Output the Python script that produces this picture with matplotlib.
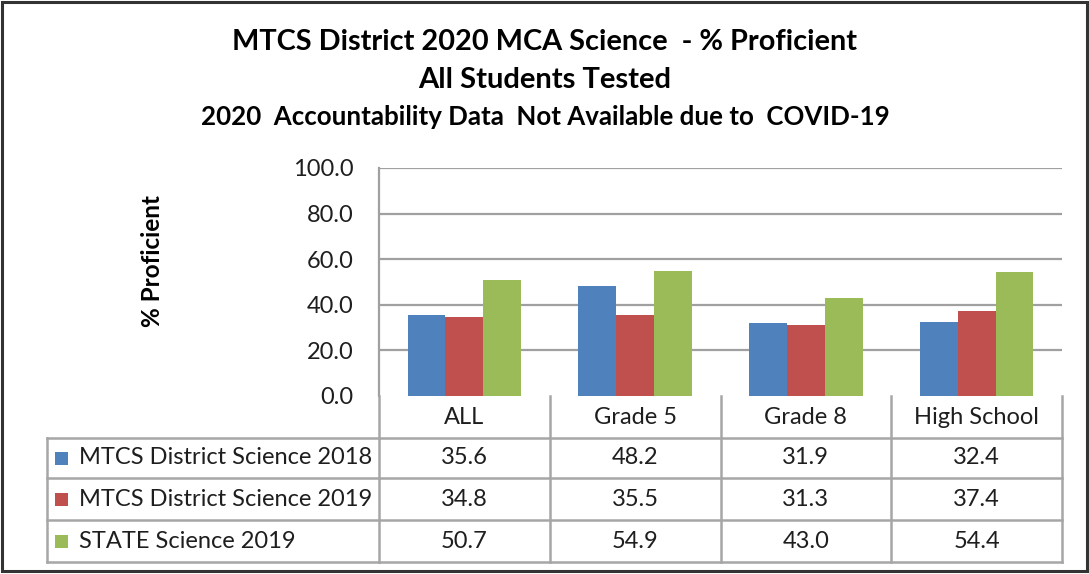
import matplotlib
matplotlib.use("Agg")
import matplotlib.pyplot as plt
from matplotlib.transforms import blended_transform_factory
from matplotlib.patches import Rectangle
from matplotlib.lines import Line2D

categories = ["ALL", "Grade 5", "Grade 8", "High School"]
series_names = ["MTCS District Science 2018", "MTCS District Science 2019", "STATE Science 2019"]
district_2018 = [35.6, 48.2, 31.9, 32.4]
district_2019 = [34.8, 35.5, 31.3, 37.4]
state_2019 = [50.7, 54.9, 43.0, 54.4]
series_values = [district_2018, district_2019, state_2019]
colors = ["#4F81BD", "#C0504D", "#9BBB59"]
yticks = [0, 20, 40, 60, 80, 100]

FONT = "Lato"
W, H = 1089, 574
fig = plt.figure(figsize=(W / 100, H / 100), dpi=100)
fig.patch.set_facecolor("white")

def fx(px):
    return px / W

def fy(py):
    return 1 - py / H

# plot area in pixels
L, R, T, B = 379, 1062, 168, 396
ax = fig.add_axes([fx(L), fy(B), fx(R) - fx(L), fy(T) - fy(B)])
ax.set_xlim(-0.5, len(categories) - 0.5)
ax.set_ylim(0, 100)

grid_c = "#A0A0A0"
for t in yticks[1:]:
    ax.axhline(t, color=grid_c, lw=1.6, zorder=0)

bw = 0.222
n = len(series_values)
for i, vals in enumerate(series_values):
    xs = [k + (i - (n - 1) / 2) * bw for k in range(len(categories))]
    ax.bar(xs, vals, width=bw, color=colors[i], zorder=2, linewidth=0)

TXT = "#1E1E1E"
ax.set_yticks(yticks)
ax.set_yticklabels([f"{t:.1f}" for t in yticks], fontfamily=FONT, fontsize=17, color=TXT)
ax.tick_params(axis="y", length=0, pad=18.5)
ax.tick_params(axis="x", length=0, labelbottom=False)
for s in ["top", "right", "bottom"]:
    ax.spines[s].set_visible(False)
ax.spines["left"].set_color(grid_c)
ax.spines["left"].set_linewidth(1.6)

fig.text(fx(153), fy(261), "% Proficient", rotation=90, ha="center", va="center",
         fontfamily=FONT, fontsize=17.5, fontweight="bold", color="black")

# titles
fig.text(fx(545), fy(42), "MTCS District 2020 MCA Science  - % Proficient", ha="center", va="center",
         fontfamily=FONT, fontsize=20.8, fontweight="bold")
fig.text(fx(545), fy(80), "All Students Tested", ha="center", va="center",
         fontfamily=FONT, fontsize=21, fontweight="bold")
fig.text(fx(545), fy(117), "2020  Accountability Data  Not Available due to  COVID-19", ha="center", va="center",
         fontfamily=FONT, fontsize=18.6, fontweight="bold")

# data table
tr = blended_transform_factory(ax.transData, fig.transFigure)
tbl_c = "#A6A6A6"
tlw = 1.8
row_edges = [396, 438, 478, 520, 562]
col_edges = [k - 0.5 for k in range(len(categories) + 1)]
for c in col_edges:
    fig.add_artist(Line2D([c, c], [fy(row_edges[0]), fy(row_edges[-1])], transform=tr, color=tbl_c, lw=tlw))
for r in row_edges[1:]:
    fig.add_artist(Line2D([col_edges[0], col_edges[-1]], [fy(r), fy(r)], transform=tr, color=tbl_c, lw=tlw))
for r in row_edges[1:]:
    fig.add_artist(Line2D([fx(47), fx(L)], [fy(r), fy(r)], transform=fig.transFigure, color=tbl_c, lw=tlw))
fig.add_artist(Line2D([fx(47), fx(47)], [fy(row_edges[1]), fy(row_edges[-1])], transform=fig.transFigure, color=tbl_c, lw=tlw))

TS = 17
for k, cat in enumerate(categories):
    fig.text(k, fy((row_edges[0] + row_edges[1]) / 2), cat, transform=tr, ha="center", va="center",
             fontfamily=FONT, fontsize=TS, color=TXT)

for i, (name, vals) in enumerate(zip(series_names, series_values)):
    yc = fy((row_edges[i + 1] + row_edges[i + 2]) / 2)
    fig.add_artist(Rectangle((fx(55), yc - (13 / H) / 2), 13 / W, 13 / H, transform=fig.transFigure,
                             facecolor=colors[i], edgecolor="none"))
    fig.text(fx(79), yc, name, ha="left", va="center", fontfamily=FONT, fontsize=TS, color=TXT)
    for k, v in enumerate(vals):
        fig.text(k, yc, f"{v:.1f}", transform=tr, ha="center", va="center",
                 fontfamily=FONT, fontsize=TS, color=TXT)

# outer frame
fig.add_artist(Rectangle((fx(2), fy(571)), fx(1087) - fx(2), fy(2) - fy(571), transform=fig.transFigure,
                         facecolor="none", edgecolor="#333333", lw=2.2))

fig.savefig("out.png", dpi=100, facecolor="white")
